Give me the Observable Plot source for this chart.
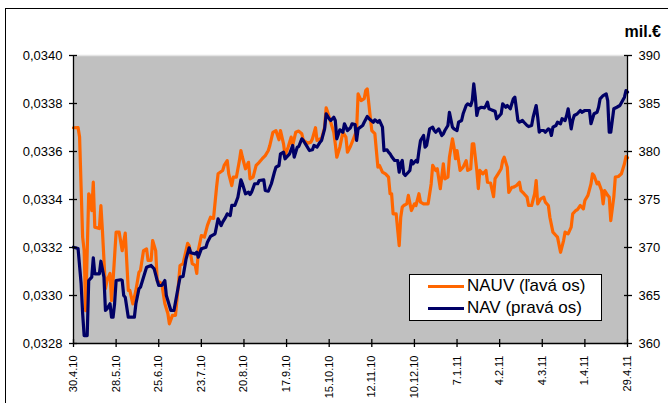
<!DOCTYPE html>
<html><head><meta charset="utf-8">
<script src="https://cdn.jsdelivr.net/npm/d3@7"></script>
<script src="https://cdn.jsdelivr.net/npm/@observablehq/plot@0.6"></script>
<style>
html,body{margin:0;padding:0;width:668px;height:403px;overflow:hidden;background:#fff;font-family:"Liberation Sans",Arial,sans-serif;}
#frame{position:absolute;left:5px;top:8px;width:720px;height:440px;border:1px solid #000;}
#chart{position:absolute;left:0;top:0;}
#unit{position:absolute;right:7px;top:22px;font-weight:bold;font-size:16px;line-height:20px;color:#000;}
#legend{position:absolute;left:409px;top:274px;width:191px;height:45px;border:1px solid #000;background:#fff;}
.item{position:absolute;left:0;width:191px;height:20px;}
.swatch{position:absolute;left:18px;top:9px;width:36px;height:3px;}
.lbl{position:absolute;left:57px;top:0;font-size:17px;line-height:20px;white-space:nowrap;color:#000;}
</style></head>
<body>
<div id="frame"></div>
<div id="chart"></div>
<div id="unit">mil.€</div>
<div id="legend"></div>
<script>
// ---- data ----
const startDay = "30.4.10";
const xTickLabels = ["30.4.10","28.5.10","25.6.10","23.7.10","20.8.10","17.9.10","15.10.10","12.11.10","10.12.10","7.1.11","4.2.11","4.3.11","1.4.11","29.4.11"];
const leftTicks = [0.0328,0.0330,0.0332,0.0334,0.0336,0.0338,0.0340];
const rightTicks = [360,365,370,375,380,385,390];
const seriesNames = ["NAUV (ľavá os)","NAV (pravá os)"];
const seriesColors = ["#FF6600","#000066"];

// days since 30.4.2010
const nauvDays = [0,3,4,6,7,8,10,11,12,13,
14,17,18,19,21,22,24,25,26,28,
30,32,34,36,37,39,41,43,44,46,
48,49,51,52,54,55,58,60,62,63,
65,67,69,70,72,75,76,78,80,81,
82,84,86,88,90,92,94,95,98,99,
101,102,104,105,107,109,110,111,113,115,
116,118,120,122,124,126,128,129,131,133,
135,136,138,139,141,143,144,146,148,150,
151,154,156,157,159,160,162,163,165,166,
167,169,171,172,173,175,177,179,180,182,
184,186,187,189,191,192,193,195,196,198,
200,201,203,205,207,208,209,210,212,214,
215,216,217,219,220,222,224,225,227,228,
230,233,235,236,238,239,241,243,244,246,
247,249,250,251,252,254,256,258,259,261,
262,263,265,266,267,269,271,272,274,276,
277,279,281,282,283,285,286,288,289,291,
293,294,296,298,299,301,303,304,305,307,
309,310,312,313,315,317,318,320,322,323,
325,327,328,330,331,333,335,336,338,340,
341,342,344,345,347,348,349,351,352,353,
355,356,358,360,362,363,364];
const nauvValues = [0.033699,0.033700,0.033660,0.033243,0.033187,0.032937,0.033424,0.033410,0.033354,0.033472,
0.033285,0.033279,0.033375,0.033271,0.033029,0.033062,0.033092,0.032979,0.033062,0.033264,
0.033264,0.033187,0.033260,0.033021,0.033021,0.032965,0.033021,0.033097,0.033104,0.033187,
0.033194,0.033146,0.033146,0.033229,0.033187,0.033062,0.033050,0.032967,0.032925,0.032882,
0.032917,0.032917,0.033050,0.033125,0.033133,0.033217,0.033208,0.033133,0.033125,0.033092,
0.033187,0.033250,0.033243,0.033292,0.033326,0.033321,0.033451,0.033507,0.033521,0.033542,
0.033562,0.033507,0.033458,0.033493,0.033493,0.033562,0.033604,0.033576,0.033528,0.033555,
0.033486,0.033493,0.033542,0.033555,0.033570,0.033583,0.033604,0.033625,0.033680,0.033687,
0.033649,0.033687,0.033632,0.033583,0.033618,0.033660,0.033625,0.033680,0.033685,0.033674,
0.033646,0.033635,0.033639,0.033653,0.033699,0.033646,0.033653,0.033653,0.033701,0.033782,
0.033764,0.033722,0.033680,0.033632,0.033576,0.033618,0.033680,0.033660,0.033597,0.033622,
0.033654,0.033687,0.033840,0.033812,0.033820,0.033854,0.033861,0.033743,0.033687,0.033674,
0.033535,0.033542,0.033514,0.033507,0.033493,0.033424,0.033424,0.033340,0.033340,0.033208,
0.033326,0.033368,0.033375,0.033382,0.033417,0.033354,0.033382,0.033375,0.033424,0.033389,
0.033382,0.033382,0.033465,0.033542,0.033521,0.033528,0.033445,0.033549,0.033486,0.033493,
0.033576,0.033653,0.033618,0.033570,0.033604,0.033521,0.033535,0.033562,0.033521,0.033528,
0.033632,0.033632,0.033521,0.033445,0.033521,0.033507,0.033521,0.033472,0.033469,0.033412,
0.033487,0.033507,0.033528,0.033562,0.033576,0.033535,0.033430,0.033451,0.033451,0.033458,
0.033472,0.033437,0.033424,0.033410,0.033375,0.033375,0.033424,0.033479,0.033382,0.033403,
0.033410,0.033389,0.033375,0.033326,0.033264,0.033250,0.033243,0.033180,0.033229,0.033264,
0.033257,0.033285,0.033340,0.033354,0.033357,0.033375,0.033361,0.033396,0.033417,0.033465,
0.033507,0.033500,0.033465,0.033472,0.033437,0.033382,0.033437,0.033417,0.033410,0.033312,
0.033410,0.033493,0.033496,0.033507,0.033549,0.033579,0.033574];

const navDays = [0,3,5,6,7,9,10,12,13,14,
17,18,20,21,22,24,25,26,27,28,
31,32,33,34,36,40,41,43,44,46,
48,51,53,55,56,58,60,61,63,64,
66,68,70,72,74,76,77,80,81,82,
84,87,88,90,93,95,97,98,100,101,
103,104,106,108,110,111,113,115,116,117,
119,121,122,125,126,128,130,132,133,135,
136,138,139,140,142,144,145,147,148,150,
151,153,155,157,158,160,162,163,165,166,
168,169,171,172,173,175,177,178,180,182,
183,185,186,187,190,191,193,195,197,198,
200,201,203,204,206,207,208,209,211,213,
214,215,216,217,218,220,221,222,223,225,
226,227,228,230,231,232,234,236,237,238,
240,242,243,244,246,247,249,250,252,253,
255,256,258,259,261,262,263,264,265,266,
268,270,271,272,273,275,277,278,279,281,
282,284,285,287,288,289,290,292,293,295,
296,298,299,301,302,304,305,306,307,309,
310,312,313,314,315,317,318,320,321,323,
324,325,327,328,329,331,333,334,336,337,
339,340,342,344,345,346,348,350,351,352,
353,355,357,359,362,363,364];
const navValues = [370.03,369.90,366.25,363.13,360.83,360.83,366.56,366.91,368.93,367.26,
367.26,368.57,366.91,363.44,363.61,364.14,362.74,362.74,364.14,366.56,
366.64,366.56,365.00,364.82,362.74,362.74,364.14,365.70,365.86,366.91,
367.95,368.13,367.78,366.56,366.04,366.04,366.56,365.00,363.96,363.44,
363.44,365.18,366.91,366.98,368.82,369.97,369.45,369.34,369.51,368.99,
369.86,370.03,370.55,371.15,371.43,372.99,372.29,372.64,373.16,373.51,
373.33,374.38,374.38,375.24,377.05,376.64,375.59,375.76,375.52,375.76,
376.64,376.64,376.98,377.05,375.94,375.86,376.64,377.84,378.36,378.54,
379.76,379.93,379.24,379.41,379.76,380.63,379.41,380.45,380.52,381.32,
381.15,380.63,380.10,380.18,380.63,380.45,380.97,381.15,382.36,383.93,
383.41,383.23,383.57,383.23,381.32,382.26,382.01,382.89,382.19,382.47,
382.89,382.81,381.15,382.36,382.71,383.05,383.65,383.30,383.05,383.30,
383.05,383.23,382.53,380.10,380.18,379.93,379.76,379.48,379.06,379.06,
377.84,378.72,379.06,377.68,377.50,377.84,378.02,379.06,378.72,379.06,
378.89,380.10,381.15,381.67,380.45,380.63,382.36,382.53,382.19,382.01,
382.36,381.67,381.84,382.19,382.71,384.09,382.53,382.36,382.19,383.05,
383.23,383.93,384.79,384.97,384.79,385.31,387.05,385.66,383.75,384.45,
384.61,384.55,384.79,385.14,384.45,384.31,384.20,383.41,383.57,383.93,
384.97,384.61,384.79,384.45,384.97,385.49,385.66,383.23,383.05,383.23,
383.05,382.71,382.60,382.71,383.57,384.79,383.57,382.01,382.19,382.19,
382.01,382.36,382.26,381.67,382.53,382.71,383.05,382.89,383.41,383.23,
383.75,384.45,382.36,383.23,383.75,383.93,384.27,384.09,384.27,384.27,
384.27,382.89,383.93,384.09,384.61,385.49,385.83,386.01,385.31,382.01,
382.01,384.45,384.61,384.79,385.66,386.35,386.18];

// ---- build ----
const parse = d3.utcParse("%d.%m.%y");
const start = parse(startDay);
const tickDates = xTickLabels.map(parse);
const labelByTime = new Map(tickDates.map((d, i) => [+d, xTickLabels[i]]));
const yMin = leftTicks[0], yMax = leftTicks[leftTicks.length - 1];
const rMin = rightTicks[0], rMax = rightTicks[rightTicks.length - 1];
const toLeft = v => yMin + (v - rMin) / (rMax - rMin) * (yMax - yMin);
const fromLeft = y => rMin + (y - yMin) / (yMax - yMin) * (rMax - rMin);

const nauv = nauvDays.map((d, i) => ({date: d3.utcDay.offset(start, d), value: nauvValues[i]}));
const nav = navDays.map((d, i) => ({date: d3.utcDay.offset(start, d), value: navValues[i]}));
const endDate = tickDates[tickDates.length - 1];
const rightTicksL = rightTicks.map(toLeft);

const font = '"Liberation Sans", Arial, sans-serif';
const plot = Plot.plot({
  width: 668, height: 403,
  marginLeft: 73, marginRight: 41, marginTop: 55, marginBottom: 60,
  style: {fontFamily: font, fontSize: "13px", color: "#000", background: "transparent", overflow: "visible"},
  x: {type: "utc", domain: [start, endDate], label: null},
  y: {domain: [yMin, yMax], label: null},
  marks: [
    Plot.frame({fill: "#C0C0C0", stroke: "none"}),
    Plot.ruleY([yMax], {stroke: "#e4e4e4", strokeWidth: 1.5}),
    Plot.line(nauv, {x: "date", y: "value", stroke: seriesColors[0], strokeWidth: 3.2, strokeLinejoin: "round"}),
    Plot.line(nav, {x: "date", y: d => toLeft(d.value), stroke: seriesColors[1], strokeWidth: 3.2, strokeLinejoin: "round"}),
    Plot.ruleX([start], {stroke: "#000", strokeWidth: 1.3}),
    Plot.ruleX([endDate], {stroke: "#000", strokeWidth: 1.3}),
    Plot.ruleY([yMin], {stroke: "#000", strokeWidth: 1.3}),
    Plot.axisY({ticks: leftTicks, tickSize: 8, dx: 4, label: null, tickFormat: () => "", strokeWidth: 1.3}),
    Plot.axisY({ticks: leftTicks, tickSize: 0, tickPadding: 11, label: null, fontSize: 13,
      tickFormat: d => d3.format(".4f")(d).replace(".", ",")}),
    Plot.axisY({anchor: "right", ticks: rightTicksL, tickSize: 8, dx: -4, label: null, tickFormat: () => "", strokeWidth: 1.3}),
    Plot.axisY({anchor: "right", ticks: rightTicksL, tickSize: 0, tickPadding: 11, label: null, fontSize: 13,
      tickFormat: d => String(Math.round(fromLeft(d)))}),
    Plot.axisX({ticks: tickDates, tickSize: 8, dy: -4, label: null, tickFormat: () => "", strokeWidth: 1.3}),
    Plot.axisX({ticks: tickDates, tickSize: 0, tickPadding: 12, tickRotate: -90, label: null, fontSize: 11,
      tickFormat: d => labelByTime.get(+d)})
  ]
});
document.getElementById("chart").appendChild(plot);

const legend = document.getElementById("legend");
seriesNames.forEach((name, i) => {
  const item = document.createElement("div");
  item.className = "item";
  item.style.top = (1 + i * 22) + "px";
  item.innerHTML = `<div class="swatch" style="background:${seriesColors[i]}"></div><div class="lbl">${name}</div>`;
  legend.appendChild(item);
});
</script>
</body></html>
